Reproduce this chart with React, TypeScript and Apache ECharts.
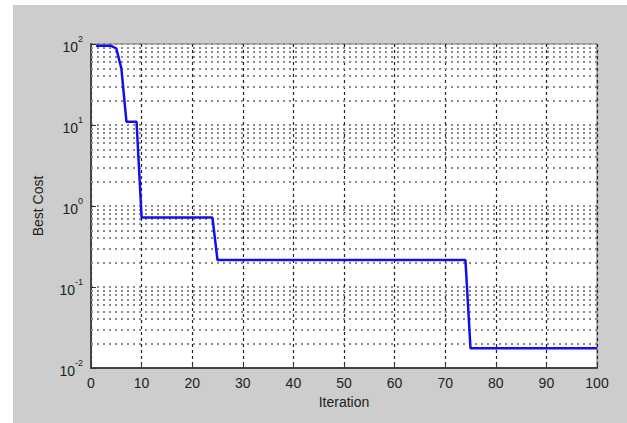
import React, { useEffect, useRef } from "react";
import * as echarts from "echarts";

const iterations: number[] = Array.from({ length: 100 }, (_, i) => i + 1);

const bestCost: number[] = [
  95, 95, 95, 95, 88, 50, 11, 11, 11, 0.72,
  0.72, 0.72, 0.72, 0.72, 0.72, 0.72, 0.72, 0.72, 0.72, 0.72,
  0.72, 0.72, 0.72, 0.72, 0.215, 0.215, 0.215, 0.215, 0.215, 0.215,
  0.215, 0.215, 0.215, 0.215, 0.215, 0.215, 0.215, 0.215, 0.215, 0.215,
  0.215, 0.215, 0.215, 0.215, 0.215, 0.215, 0.215, 0.215, 0.215, 0.215,
  0.215, 0.215, 0.215, 0.215, 0.215, 0.215, 0.215, 0.215, 0.215, 0.215,
  0.215, 0.215, 0.215, 0.215, 0.215, 0.215, 0.215, 0.215, 0.215, 0.215,
  0.215, 0.215, 0.215, 0.215, 0.0175, 0.0175, 0.0175, 0.0175, 0.0175, 0.0175,
  0.0175, 0.0175, 0.0175, 0.0175, 0.0175, 0.0175, 0.0175, 0.0175, 0.0175, 0.0175,
  0.0175, 0.0175, 0.0175, 0.0175, 0.0175, 0.0175, 0.0175, 0.0175, 0.0175, 0.0175,
];

const decades: number[] = [0.01, 0.1, 1, 10];
const minorMultipliers: number[] = [2, 3, 4, 5, 6, 7, 8, 9];

const xTicks = { min: 0, max: 100, interval: 10 };
const yRange = { min: 0.01, max: 100 };

export default function App() {
  const ref = useRef<HTMLDivElement>(null);
  useEffect(() => {
    if (!ref.current) return;
    const chart = echarts.init(ref.current, undefined, { renderer: "svg" });
    const minorLines: any[] = [];
    decades.forEach((d) =>
      minorMultipliers.forEach((m) => minorLines.push({ yAxis: d * m }))
    );
    const font = "'Liberation Sans', Arial, sans-serif";
    const txt = "#222";
    const dotted = { color: "#8a8a8a", type: [2, 4], width: 2 };
    chart.setOption({
      animation: false,
      backgroundColor: "#cdcdcd",
      textStyle: { fontFamily: font },
      grid: {
        left: 78,
        top: 39,
        width: 506,
        height: 324,
        show: true,
        backgroundColor: "#ffffff",
        borderColor: "#777",
        borderWidth: 1,
      },
      xAxis: {
        type: "value",
        min: xTicks.min,
        max: xTicks.max,
        interval: xTicks.interval,
        name: "Iteration",
        nameLocation: "middle",
        nameGap: 27,
        nameTextStyle: { color: txt, fontSize: 14, fontFamily: font },
        axisLine: { show: true, onZero: false, lineStyle: { color: "#444", width: 2 } },
        axisTick: { show: true, inside: true, length: 5, lineStyle: { color: "#333" } },
        axisLabel: { color: txt, fontSize: 14, margin: 8, fontFamily: font },
        splitLine: {
          show: true,
          lineStyle: { color: "#222", type: [3, 3], width: 1.2 },
        },
      },
      yAxis: {
        type: "log",
        logBase: 10,
        min: yRange.min,
        max: yRange.max,
        name: "Best Cost",
        nameLocation: "middle",
        nameRotate: 90,
        nameGap: 46,
        nameTextStyle: { color: txt, fontSize: 14, fontFamily: font },
        axisLine: { show: true, onZero: false, lineStyle: { color: "#444", width: 2 } },
        axisTick: { show: true, inside: true, length: 5, lineStyle: { color: "#333" } },
        axisLabel: {
          margin: 8,
          formatter: (v: number) => `{b|10}{s|${Math.round(Math.log10(v))}}`,
          rich: {
            b: { color: txt, fontSize: 14, fontFamily: font, lineHeight: 20, verticalAlign: "bottom" },
            s: { color: txt, fontSize: 9, fontFamily: font, lineHeight: 20, verticalAlign: "top", padding: [0, 0, 8, 0] },
          },
        },
        splitLine: { show: true, lineStyle: dotted },
      },
      series: [
        {
          type: "line",
          data: [],
          silent: true,
          markLine: {
            silent: true,
            symbol: "none",
            label: { show: false },
            lineStyle: dotted,
            data: minorLines,
            z: 1,
          },
        },
        {
          type: "line",
          data: iterations.map((x, i) => [x, bestCost[i]]),
          showSymbol: false,
          symbol: "none",
          lineStyle: { color: "#1010ee", width: 2.5 },
          z: 5,
        },
      ],
    });
    return () => chart.dispose();
  }, []);
  return (
    <div style={{ position: "absolute", left: 0, top: 0, width: 627, height: 423, background: "#fff" }}>
      <div ref={ref} style={{ position: "absolute", left: 13, top: 5, width: 614, height: 418 }} />
    </div>
  );
}
